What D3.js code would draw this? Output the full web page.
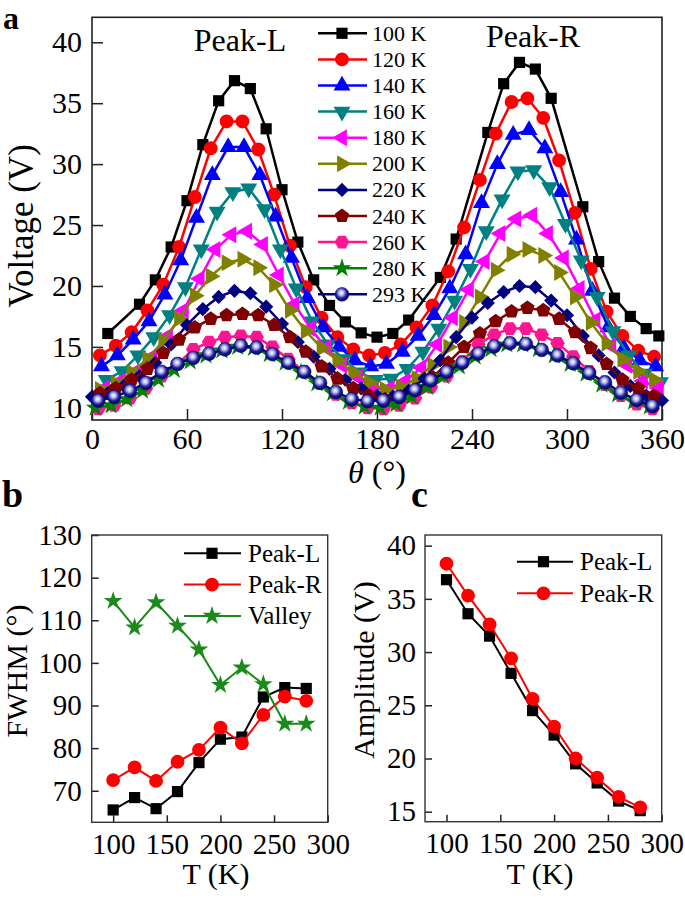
<!DOCTYPE html>
<html><head><meta charset="utf-8">
<script src="https://cdn.jsdelivr.net/npm/d3@7"></script>
<style>body{margin:0;background:#fff}</style>
</head><body>
<svg id="chart" width="685" height="898"></svg>
<script>
// ---------- Panel a data: [theta (deg), voltage (V)] ----------
const s100 = [[10,16.1],[30,18.5],[40,20.5],[50,23.2],[60,27.0],[70,31.6],[80,35.2],[90,36.85],[100,36.2],[110,32.9],[120,27.9],[130,23.6],[140,20.5],[150,18.4],[160,17.05],[170,16.15],[180,15.8],[190,16.1],[200,17.2],[220,20.7],[230,23.85],[250,32.6],[260,36.6],[270,38.35],[280,37.8],[290,35.4],[310,26.5],[320,22.0],[330,19.0],[340,17.5],[350,16.5],[358,15.9]];
const s120 = [[5,14.3],[15,15.1],[25,16.2],[35,18.0],[45,20.1],[55,23.2],[65,27.3],[75,31.3],[85,33.5],[95,33.5],[105,31.2],[115,27.5],[125,23.3],[135,19.9],[145,17.4],[155,15.8],[165,14.8],[175,14.3],[185,14.5],[195,15.2],[205,16.6],[215,18.4],[225,21.2],[235,24.8],[245,28.7],[255,32.5],[265,35.1],[275,35.4],[285,33.8],[295,30.3],[305,26.0],[315,21.4],[325,17.9],[335,15.9],[345,14.7],[355,14.2]];
const s140 = [[6,13.4],[16,14.3],[26,15.6],[36,17.1],[46,19.3],[56,22.1],[66,25.6],[76,29.1],[86,31.4],[96,31.4],[106,29.1],[116,25.7],[126,22.3],[136,19.0],[146,16.6],[156,15.0],[166,13.9],[176,13.4],[186,13.6],[196,14.6],[206,15.9],[216,17.6],[226,19.8],[236,22.6],[246,26.8],[256,30.0],[266,32.4],[276,32.8],[286,31.3],[296,27.7],[306,23.8],[316,19.6],[326,16.6],[336,14.9],[346,13.9],[356,13.4]];
const s160 = [[9,12.3],[19,13.0],[29,14.3],[39,15.8],[49,17.6],[59,19.9],[69,23.0],[79,26.1],[89,27.7],[99,28.0],[109,26.3],[119,23.0],[129,19.8],[139,17.1],[149,15.2],[159,14.0],[169,12.9],[179,12.3],[189,12.4],[199,13.2],[209,14.6],[219,16.5],[229,18.8],[239,21.4],[249,24.5],[259,27.1],[269,29.4],[279,29.5],[289,28.1],[299,25.1],[309,22.1],[319,19.1],[329,16.3],[339,14.3],[349,12.8],[359,12.1]];
const s180 = [[8,11.6],[18,12.2],[28,13.0],[38,14.2],[48,15.9],[58,18.0],[68,20.6],[78,23.0],[88,24.2],[98,24.5],[108,23.4],[118,20.9],[128,18.5],[138,16.5],[148,14.9],[158,13.5],[168,12.5],[178,11.5],[188,11.6],[198,12.2],[208,13.3],[218,15.2],[228,17.4],[238,19.7],[248,22.0],[258,24.3],[268,25.5],[278,25.8],[288,24.3],[298,22.3],[308,19.8],[318,17.2],[328,15.1],[338,13.5],[348,12.2],[358,11.6]];
const s200 = [[5,11.5],[15,12.0],[25,12.9],[35,14.0],[45,15.5],[55,17.3],[65,19.2],[75,20.8],[85,21.9],[95,22.2],[105,21.5],[115,20.1],[125,18.0],[135,16.3],[145,14.9],[155,13.9],[165,12.9],[175,12.1],[185,11.5],[195,11.7],[205,12.4],[215,13.5],[225,15.0],[235,17.0],[245,19.1],[255,21.3],[265,22.6],[275,23.0],[285,22.5],[295,21.1],[305,19.1],[315,17.0],[325,15.3],[335,14.0],[345,13.0],[355,12.3]];
const s220 = [[0,10.9],[10,11.2],[20,11.8],[30,12.6],[40,13.7],[50,15.2],[60,16.8],[70,18.1],[80,19.1],[90,19.6],[100,19.4],[110,18.3],[120,16.9],[130,15.4],[140,14.2],[150,13.2],[160,12.3],[170,11.6],[180,11.0],[190,10.9],[200,11.4],[210,12.4],[220,13.9],[230,15.8],[240,17.4],[250,18.6],[260,19.5],[270,20.0],[280,19.9],[290,18.8],[300,17.6],[310,15.9],[320,14.3],[330,12.9],[340,11.8],[350,11.0],[360,10.6]];
const s240 = [[5,11.2],[15,11.6],[25,12.3],[35,13.2],[45,14.5],[55,15.6],[65,16.6],[75,17.3],[85,17.6],[95,17.7],[105,17.6],[115,16.8],[125,15.8],[135,14.6],[145,13.4],[155,12.4],[165,11.6],[175,11.0],[185,10.7],[195,10.9],[205,11.5],[215,12.5],[225,13.7],[235,15.0],[245,16.1],[255,17.1],[265,17.9],[275,18.2],[285,18.0],[295,17.3],[305,16.2],[315,14.9],[325,13.6],[335,12.3],[345,11.6],[355,11.0]];
const s260 = [[4,9.9],[14,10.2],[24,10.8],[34,11.6],[44,12.6],[54,13.6],[64,14.8],[74,15.4],[84,15.8],[94,15.9],[104,15.8],[114,15.0],[124,14.0],[134,13.0],[144,12.0],[154,11.1],[164,10.4],[174,10.0],[184,9.9],[194,10.2],[204,10.8],[214,11.7],[224,12.6],[234,13.8],[244,15.2],[254,16.0],[264,16.5],[274,16.5],[284,16.0],[294,15.3],[304,14.2],[314,13.0],[324,11.9],[334,11.0],[344,10.3],[354,9.9]];
const s280 = [[2,10.0],[12,10.2],[22,10.7],[32,11.4],[42,12.3],[52,13.1],[62,13.8],[72,14.3],[82,14.7],[92,15.0],[102,14.9],[112,14.4],[122,13.7],[132,12.9],[142,12.0],[152,11.2],[162,10.5],[172,10.1],[182,10.0],[192,10.3],[202,10.9],[212,11.7],[222,12.6],[232,13.4],[242,14.2],[252,14.8],[262,15.2],[272,15.2],[282,14.8],[292,14.3],[302,13.6],[312,12.8],[322,11.9],[332,11.1],[342,10.5],[352,10.1]];
const s293 = [[4,10.6],[14,10.9],[24,11.4],[34,12.05],[44,12.95],[54,13.6],[64,14.1],[74,14.45],[84,14.8],[94,15.1],[104,14.95],[114,14.4],[124,13.7],[134,12.95],[144,12.05],[154,11.3],[164,10.7],[174,10.55],[184,10.6],[194,10.9],[204,11.45],[214,12.25],[224,12.95],[234,13.7],[244,14.45],[254,15.05],[264,15.3],[274,15.25],[284,14.75],[294,14.3],[304,13.65],[314,12.85],[324,12.1],[334,11.25],[344,10.65],[354,10.15]];
const tempLabels = ["100 K","120 K","140 K","160 K","180 K","200 K","220 K","240 K","260 K","280 K","293 K"];
const thetaTicks = [0,60,120,180,240,300,360];
const voltTicks = [10,15,20,25,30,35,40];

// ---------- Panel b / c data ----------
const temps = [100,120,140,160,180,200,220,240,260,280];
const fwhmL = [65.5,68.4,65.8,69.8,76.6,82.1,82.6,92.0,94.2,94.0];
const fwhmR = [72.5,75.5,72.3,76.8,79.6,84.8,81.1,87.8,92.1,91.1];
const fwhmV = [114.5,108.3,114.2,108.7,103.1,94.8,98.9,95.0,85.7,85.7];
const ampL = [36.8,33.6,31.5,28.0,24.5,22.2,19.5,17.7,16.0,15.1];
const ampR = [38.3,35.3,32.6,29.4,25.6,23.0,20.0,18.2,16.4,15.4];
const tTicks = [100,150,200,250,300];
const fwhmTicks = [70,80,90,100,110,120,130];
const ampTicks = [15,20,25,30,35,40];

const FONT = "'Liberation Serif','Times New Roman',Times,serif";
const svg = d3.select("#chart");

// sphere gradient
const defs = svg.append("defs");
const rg = defs.append("radialGradient").attr("id","sphere").attr("cx","45%").attr("cy","40%").attr("r","60%");
rg.append("stop").attr("offset","0%").attr("stop-color","#ffffff");
rg.append("stop").attr("offset","30%").attr("stop-color","#b8b8e8");
rg.append("stop").attr("offset","65%").attr("stop-color","#1c1ca0");
rg.append("stop").attr("offset","100%").attr("stop-color","#00006a");

function poly(n, r, rot) {
  const pts = d3.range(n).map(i => {
    const a = rot + i * 2 * Math.PI / n;
    return [r * Math.cos(a), r * Math.sin(a)];
  });
  return "M" + pts.map(p => p.join(",")).join("L") + "Z";
}
const shapes = {
  square: {d: d3.symbol(d3.symbolSquare, 125)(), rot: 0},
  circle: {d: d3.symbol(d3.symbolCircle, 150)(), rot: 0},
  triUp: {d: d3.symbol(d3.symbolTriangle, 125)(), rot: 0},
  triDown: {d: d3.symbol(d3.symbolTriangle, 125)(), rot: 180},
  triLeft: {d: d3.symbol(d3.symbolTriangle, 125)(), rot: -90},
  triRight: {d: d3.symbol(d3.symbolTriangle, 125)(), rot: 90},
  diamond: {d: d3.symbol(d3.symbolSquare, 100)(), rot: 45},
  pentagon: {d: poly(5, 7.5, -Math.PI/2), rot: 0},
  hexagon: {d: poly(6, 7.3, 0), rot: 0},
  star: {d: d3.symbol(d3.symbolStar, 110)(), rot: 0},
  sphere: {d: d3.symbol(d3.symbolCircle, 150)(), rot: 0}
};

const seriesA = [
  {data: s100, color: "#000000", shape: "square"},
  {data: s120, color: "#ff0000", shape: "circle"},
  {data: s140, color: "#0000ff", shape: "triUp"},
  {data: s160, color: "#008080", shape: "triDown"},
  {data: s180, color: "#ff00ff", shape: "triLeft"},
  {data: s200, color: "#808000", shape: "triRight"},
  {data: s220, color: "#000080", shape: "diamond"},
  {data: s240, color: "#800000", shape: "pentagon"},
  {data: s260, color: "#ff1493", shape: "hexagon"},
  {data: s280, color: "#008000", shape: "star"},
  {data: s293, color: "#000080", shape: "sphere"}
];

function drawMarker(g, shape, color, x, y) {
  const s = shapes[shape];
  g.append("path").attr("d", s.d)
    .attr("transform", `translate(${x},${y}) rotate(${s.rot})`)
    .attr("fill", shape === "sphere" ? "url(#sphere)" : color)
    .attr("stroke", shape === "sphere" ? "#00006a" : "none")
    .attr("stroke-width", 0.5);
}

function styleAxis(g, size) {
  g.select(".domain").remove();
  g.selectAll(".tick line").attr("stroke", "#222").attr("stroke-width", 1.5);
  g.selectAll(".tick text").attr("font-family", FONT).attr("font-size", size).attr("fill", "#000");
}

// ================= Panel a =================
const ax = d3.scaleLinear().domain([0, 360]).range([92, 662]);
const ay = d3.scaleLinear().domain([9, 42.05]).range([420, 17.3]);
const ga = svg.append("g");
ga.append("g").attr("transform", "translate(0,420)")
  .call(d3.axisBottom(ax).tickValues(thetaTicks).tickSize(-11).tickPadding(8))
  .call(g => styleAxis(g, 30));
ga.append("g").attr("transform", "translate(92,0)")
  .call(d3.axisLeft(ay).tickValues(voltTicks).tickSize(-11).tickPadding(10))
  .call(g => styleAxis(g, 30));
ga.append("rect").attr("x", 92).attr("y", 17.3).attr("width", 570).attr("height", 402.7)
  .attr("fill", "none").attr("stroke", "#222").attr("stroke-width", 1.6);

const lineA = d3.line().x(d => ax(d[0])).y(d => ay(d[1]));
seriesA.forEach(s => {
  ga.append("path").attr("d", lineA(s.data)).attr("fill", "none")
    .attr("stroke", s.color).attr("stroke-width", 2.5);
  const mg = ga.append("g");
  s.data.forEach(d => drawMarker(mg, s.shape, s.color, ax(d[0]), ay(d[1])));
});

ga.append("text").attr("x", 240).attr("y", 51).attr("text-anchor", "middle")
  .attr("font-family", FONT).attr("font-size", 32).text("Peak-L");
ga.append("text").attr("x", 533).attr("y", 47).attr("text-anchor", "middle")
  .attr("font-family", FONT).attr("font-size", 32).text("Peak-R");

// legend a
const legA = ga.append("g");
seriesA.forEach((s, i) => {
  const y = 33.3 + i * 26.1;
  legA.append("line").attr("x1", 318).attr("x2", 367).attr("y1", y).attr("y2", y)
    .attr("stroke", s.color).attr("stroke-width", 2.5);
  drawMarker(legA, s.shape, s.color, 342, y);
  legA.append("text").attr("x", 372).attr("y", y + 7.5)
    .attr("font-family", FONT).attr("font-size", 22).text(tempLabels[i]);
});

// axis titles a
svg.append("text").attr("transform", "translate(33,226) rotate(-90)")
  .attr("text-anchor", "middle").attr("font-family", FONT).attr("font-size", 35)
  .text("Voltage (V)");
const th = svg.append("text").attr("x", 377).attr("y", 483).attr("text-anchor", "middle")
  .attr("font-family", FONT).attr("font-size", 32);
th.append("tspan").attr("font-style", "italic").text("θ");
th.append("tspan").text(" (°)");

svg.append("text").attr("x", 3).attr("y", 29).attr("font-family", FONT)
  .attr("font-weight", "bold").attr("font-size", 32).text("a");

// ================= Panel b =================
const bx = d3.scaleLinear().domain([80, 300]).range([91.7, 327.7]);
const by = d3.scaleLinear().domain([62.6, 130]).range([822.3, 535]);
const gb = svg.append("g");
gb.append("g").attr("transform", "translate(0,822.3)")
  .call(d3.axisBottom(bx).tickValues(tTicks).tickSize(-7).tickPadding(11))
  .call(g => styleAxis(g, 29));
gb.append("g").attr("transform", "translate(91.7,0)")
  .call(d3.axisLeft(by).tickValues(fwhmTicks).tickSize(-7).tickPadding(10))
  .call(g => styleAxis(g, 29));
gb.append("rect").attr("x", 91.7).attr("y", 535).attr("width", 236).attr("height", 287.3)
  .attr("fill", "none").attr("stroke", "#333").attr("stroke-width", 1.4);

const seriesB = [
  {name: "Peak-L", vals: fwhmL, color: "#000000", shape: "square"},
  {name: "Peak-R", vals: fwhmR, color: "#ff0000", shape: "circle"},
  {name: "Valley", vals: fwhmV, color: "#1a8a1a", shape: "star"}
];
const lineB = d3.line().x((d, i) => bx(temps[i])).y(d => by(d));
seriesB.forEach(s => {
  gb.append("path").attr("d", lineB(s.vals)).attr("fill", "none")
    .attr("stroke", s.color).attr("stroke-width", 2);
  s.vals.forEach((v, i) => drawMarker(gb, s.shape, s.color, bx(temps[i]), by(v)));
});
seriesB.forEach((s, i) => {
  const y = 553.3 + i * 31.3;
  gb.append("line").attr("x1", 184).attr("x2", 241).attr("y1", y).attr("y2", y)
    .attr("stroke", s.color).attr("stroke-width", 2);
  drawMarker(gb, s.shape, s.color, 212, y);
  gb.append("text").attr("x", 248).attr("y", y + 8.5).attr("font-family", FONT)
    .attr("font-size", 25).text(s.name);
});
svg.append("text").attr("transform", "translate(27,671) rotate(-90)")
  .attr("text-anchor", "middle").attr("font-family", FONT).attr("font-size", 30)
  .text("FWHM (°)");
svg.append("text").attr("x", 216).attr("y", 884).attr("text-anchor", "middle")
  .attr("font-family", FONT).attr("font-size", 30).text("T (K)");
svg.append("text").attr("x", 2).attr("y", 507).attr("font-family", FONT)
  .attr("font-weight", "bold").attr("font-size", 38).text("b");

// ================= Panel c =================
const cx = d3.scaleLinear().domain([80, 300]).range([425, 661.7]);
const cy = d3.scaleLinear().domain([14.06, 41]).range([821.7, 535]);
const gc = svg.append("g");
gc.append("g").attr("transform", "translate(0,821.7)")
  .call(d3.axisBottom(cx).tickValues(tTicks).tickSize(-7).tickPadding(11))
  .call(g => styleAxis(g, 29));
gc.append("g").attr("transform", "translate(425,0)")
  .call(d3.axisLeft(cy).tickValues(ampTicks).tickSize(-7).tickPadding(9))
  .call(g => styleAxis(g, 29));
gc.append("rect").attr("x", 425).attr("y", 535).attr("width", 236.7).attr("height", 286.7)
  .attr("fill", "none").attr("stroke", "#333").attr("stroke-width", 1.4);
const seriesC = [
  {name: "Peak-L", vals: ampL, color: "#000000", shape: "square"},
  {name: "Peak-R", vals: ampR, color: "#ff0000", shape: "circle"}
];
const lineC = d3.line().x((d, i) => cx(temps[i])).y(d => cy(d));
seriesC.forEach(s => {
  gc.append("path").attr("d", lineC(s.vals)).attr("fill", "none")
    .attr("stroke", s.color).attr("stroke-width", 2);
  s.vals.forEach((v, i) => drawMarker(gc, s.shape, s.color, cx(temps[i]), cy(v)));
});
seriesC.forEach((s, i) => {
  const y = 561.7 + i * 31.6;
  gc.append("line").attr("x1", 517).attr("x2", 573).attr("y1", y).attr("y2", y)
    .attr("stroke", s.color).attr("stroke-width", 2);
  drawMarker(gc, s.shape, s.color, 543.5, y);
  gc.append("text").attr("x", 580).attr("y", y + 8.5).attr("font-family", FONT)
    .attr("font-size", 25).text(s.name);
});
svg.append("text").attr("transform", "translate(374,670) rotate(-90)")
  .attr("text-anchor", "middle").attr("font-family", FONT).attr("font-size", 30)
  .text("Amplitude (V)");
svg.append("text").attr("x", 540).attr("y", 884).attr("text-anchor", "middle")
  .attr("font-family", FONT).attr("font-size", 30).text("T (K)");
svg.append("text").attr("x", 411).attr("y", 507).attr("font-family", FONT)
  .attr("font-weight", "bold").attr("font-size", 38).text("c");
</script>
</body></html>
